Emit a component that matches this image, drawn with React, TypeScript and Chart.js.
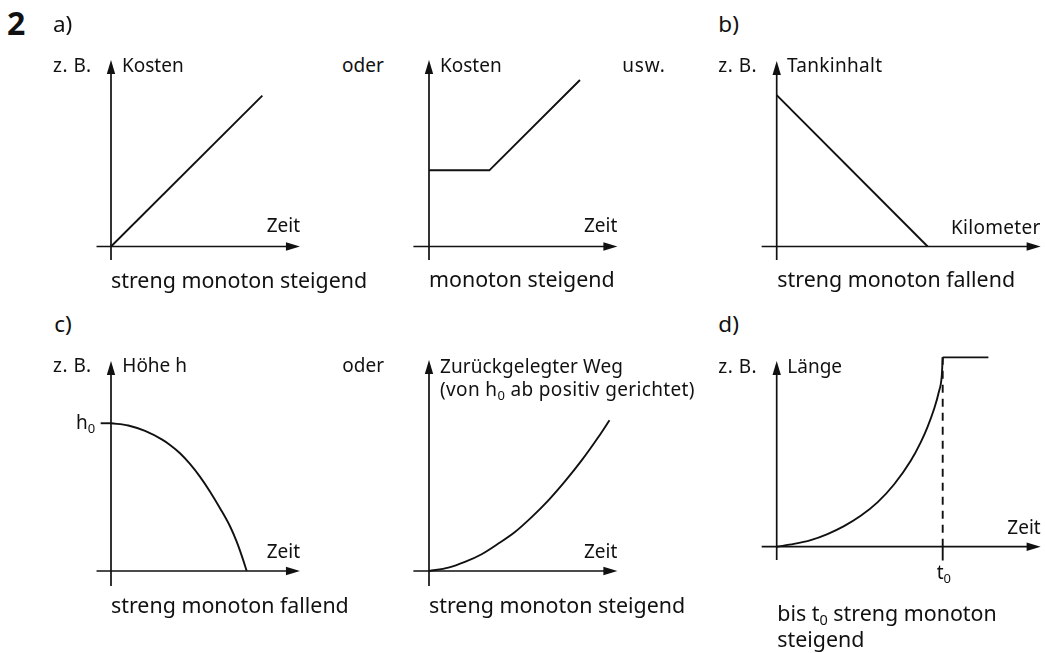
import React, { useEffect, useRef } from "react";
import { Chart, registerables } from "chart.js";

Chart.register(...registerables);

// ---------- data (axis units) ----------
const costLinearX = [0, 8.05];
const costLinearY = [0, 8.2];

const costStepX = [0, 3.21, 8.03];
const costStepY = [4.14, 4.14, 9.05];

const tankX = [0, 8.03];
const tankY = [8.23, 0];

const heightX = [0, 0.92, 1.81, 2.7, 3.14, 3.67, 4.2, 4.73, 5.27, 5.8, 6.33, 6.69, 6.97, 7.22];
const heightY = [8.03, 7.91, 7.61, 7.15, 6.85, 6.4, 5.82, 5.13, 4.31, 3.41, 2.43, 1.58, 0.78, 0];
const h0Value = 8.03;

const distX = [0, 1.03, 1.91, 2.8, 3.69, 4.57, 5.46, 6.35, 7.23, 8.12, 9.01, 9.6];
const distY = [0, 0.18, 0.49, 0.91, 1.49, 2.12, 2.93, 3.84, 4.87, 6.01, 7.28, 8.19];

const lengthX = [0, 0.92, 1.81, 2.7, 3.58, 4.47, 5.36, 6.24, 7.13, 7.66, 8.02, 8.37, 8.62, 8.78, 8.83];
const lengthY = [0, 0.15, 0.36, 0.69, 1.12, 1.68, 2.41, 3.38, 4.67, 5.67, 6.5, 7.48, 8.39, 9.29, 10.29];
const lengthFlatX = [8.83, 11.26];
const lengthFlatY = [10.29, 10.29];
const t0Value = 8.83;

// ---------- texts ----------
const yAxisTitles = ["Kosten", "Kosten", "Tankinhalt", "Höhe h", "Zurückgelegter Weg", "Länge"];
const xAxisTitles = ["Zeit", "Zeit", "Kilometer", "Zeit", "Zeit", "Zeit"];
const captions = [
  "streng monoton steigend",
  "monoton steigend",
  "streng monoton fallend",
  "streng monoton fallend",
  "streng monoton steigend",
];

const INK = "#111";
const KX = 18.8;
const KY = 18.4;
const FONT = "'Noto Sans', 'Open Sans', sans-serif";
const CAP = 21.4;
const HEAD = 22.5;

type Series = { xs: number[]; ys: number[]; dash?: number[]; smooth?: boolean; width?: number };
type PanelSpec = { ox: number; oy: number; xAxis: [number, number]; yAxis: [number, number]; series: Series[] };

const panels: PanelSpec[] = [
  { ox: 111, oy: 246.5, xAxis: [-0.77, 10.05], yAxis: [-0.73, 10.14], series: [{ xs: costLinearX, ys: costLinearY }] },
  { ox: 429, oy: 246.5, xAxis: [-0.83, 10.02], yAxis: [-0.73, 10.14], series: [{ xs: costStepX, ys: costStepY }] },
  { ox: 776.7, oy: 246.5, xAxis: [-0.8, 14.04], yAxis: [-0.73, 10.08], series: [{ xs: tankX, ys: tankY }] },
  {
    ox: 111, oy: 571, xAxis: [-0.77, 10.05], yAxis: [-0.82, 11.41],
    series: [
      { xs: heightX, ys: heightY, smooth: true },
      { xs: [-0.55, 0], ys: [h0Value, h0Value] },
    ],
  },
  { ox: 429, oy: 571, xAxis: [-0.83, 10.02], yAxis: [-0.82, 11.47], series: [{ xs: distX, ys: distY, smooth: true }] },
  {
    ox: 776.7, oy: 546.7, xAxis: [-0.8, 14.04], yAxis: [-0.72, 10.09],
    series: [
      { xs: lengthX, ys: lengthY, smooth: true },
      { xs: lengthFlatX, ys: lengthFlatY },
      { xs: [t0Value, t0Value], ys: [0, lengthFlatY[0]], dash: [8, 6] },
      { xs: [t0Value, t0Value], ys: [-0.75, 0] },
    ],
  },
];

const AH = 14;
const AW = 4.2;

function Panel({ spec }: { spec: PanelSpec }) {
  const ref = useRef<HTMLCanvasElement>(null);
  const allX = [...spec.xAxis, ...spec.series.flatMap((s) => s.xs)];
  const allY = [...spec.yAxis, ...spec.series.flatMap((s) => s.ys)];
  const left = Math.floor(spec.ox + (Math.min(...allX) - 0.6) * KX);
  const right = Math.ceil(spec.ox + (Math.max(...allX) + 0.6) * KX);
  const top = Math.floor(spec.oy - (Math.max(...allY) + 0.6) * KY);
  const bottom = Math.ceil(spec.oy - (Math.min(...allY) - 0.6) * KY);
  const w = right - left;
  const h = bottom - top;
  const xmin = (left - spec.ox) / KX;
  const xmax = (right - spec.ox) / KX;
  const ymax = (spec.oy - top) / KY;
  const ymin = (spec.oy - bottom) / KY;

  useEffect(() => {
    if (!ref.current) return;
    const axesPlugin = {
      id: "arrowAxes",
      beforeDatasetsDraw(chart: any) {
        const { ctx } = chart;
        const sx = chart.scales.x;
        const sy = chart.scales.y;
        const px0 = sx.getPixelForValue(0);
        const py0 = sy.getPixelForValue(0);
        const xa = sx.getPixelForValue(spec.xAxis[0]);
        const xb = sx.getPixelForValue(spec.xAxis[1]);
        const ya = sy.getPixelForValue(spec.yAxis[0]);
        const yb = sy.getPixelForValue(spec.yAxis[1]);
        ctx.save();
        ctx.strokeStyle = INK;
        ctx.fillStyle = INK;
        ctx.lineWidth = 1.7;
        ctx.beginPath();
        ctx.moveTo(xa, py0);
        ctx.lineTo(xb - AH + 1, py0);
        ctx.moveTo(px0, ya);
        ctx.lineTo(px0, yb + AH - 1);
        ctx.stroke();
        ctx.beginPath();
        ctx.moveTo(xb, py0);
        ctx.lineTo(xb - AH, py0 - AW);
        ctx.lineTo(xb - AH, py0 + AW);
        ctx.closePath();
        ctx.fill();
        ctx.beginPath();
        ctx.moveTo(px0, yb);
        ctx.lineTo(px0 - AW, yb + AH);
        ctx.lineTo(px0 + AW, yb + AH);
        ctx.closePath();
        ctx.fill();
        ctx.restore();
      },
    };
    const chart = new Chart(ref.current, {
      type: "scatter",
      data: {
        datasets: spec.series.map((s) => ({
          data: s.xs.map((x, i) => ({ x, y: s.ys[i] })),
          showLine: true,
          borderColor: INK,
          borderWidth: s.width ?? 1.9,
          borderDash: s.dash ?? [],
          borderJoinStyle: "miter" as const,
          borderCapStyle: "butt" as const,
          pointRadius: 0,
          pointHoverRadius: 0,
          fill: false,
          tension: s.smooth ? 0.4 : 0,
          cubicInterpolationMode: s.smooth ? ("monotone" as const) : ("default" as const),
          clip: false as any,
        })),
      },
      options: {
        responsive: false,
        maintainAspectRatio: false,
        animation: false,
        events: [],
        layout: { padding: 0 },
        plugins: { legend: { display: false }, tooltip: { enabled: false } },
        scales: {
          x: { type: "linear", display: false, min: xmin, max: xmax },
          y: { type: "linear", display: false, min: ymin, max: ymax },
        },
      },
      plugins: [axesPlugin],
    });
    return () => chart.destroy();
  }, []);

  return (
    <canvas
      ref={ref}
      width={w}
      height={h}
      style={{ position: "absolute", left, top, width: w, height: h }}
    />
  );
}

function Txt({
  x,
  y,
  children,
  align = "left",
  size = 19,
  weight = 400,
  spacing = 0,
}: {
  x: number;
  y: number;
  children: React.ReactNode;
  align?: "left" | "right";
  size?: number;
  weight?: number;
  spacing?: number;
}) {
  const base = size * 0.888;
  const style: React.CSSProperties = {
    position: "absolute",
    top: y - base,
    fontSize: size,
    lineHeight: `${size}px`,
    fontWeight: weight,
    whiteSpace: "nowrap",
    fontFamily: FONT,
    color: INK,
    letterSpacing: spacing,
  };
  if (align === "right") style.right = 1045 - x;
  else style.left = x;
  return <div style={style}>{children}</div>;
}

const Sub = ({ children, size = 13 }: { children: React.ReactNode; size?: number }) => (
  <span style={{ fontSize: size, position: "relative", top: 4 }}>{children}</span>
);

export default function App() {
  return (
    <div
      style={{
        position: "absolute",
        left: 0,
        top: 0,
        width: 1045,
        height: 653,
        background: "#fff",
        overflow: "hidden",
        fontFamily: FONT,
      }}
    >
      {panels.map((p, i) => (
        <Panel key={i} spec={p} />
      ))}

      <Txt x={7} y={35} size={32} weight={700}>2</Txt>

      {/* a) */}
      <Txt x={53} y={33} size={HEAD}>a)</Txt>
      <Txt x={53} y={72.7} spacing={0.5}>z. B.</Txt>
      <Txt x={122} y={72.7}>{yAxisTitles[0]}</Txt>
      <Txt x={342} y={72.7}>oder</Txt>
      <Txt x={300} y={233.3} align="right">{xAxisTitles[0]}</Txt>
      <Txt x={111} y={288} size={CAP}>{captions[0]}</Txt>

      <Txt x={440} y={72.7}>{yAxisTitles[1]}</Txt>
      <Txt x={622.3} y={72.7} spacing={0.8}>usw.</Txt>
      <Txt x={617.3} y={233.3} align="right">{xAxisTitles[1]}</Txt>
      <Txt x={429} y={287.5} size={CAP}>{captions[1]}</Txt>

      {/* b) */}
      <Txt x={718.3} y={33} size={HEAD}>b)</Txt>
      <Txt x={718.3} y={72.7} spacing={0.5}>z. B.</Txt>
      <Txt x={787} y={72.7} spacing={0.3}>{yAxisTitles[2]}</Txt>
      <Txt x={1040.7} y={235} align="right" spacing={0.3}>{xAxisTitles[2]}</Txt>
      <Txt x={777.3} y={287.5} size={CAP}>{captions[2]}</Txt>

      {/* c) */}
      <Txt x={54.3} y={333.3} size={HEAD}>c)</Txt>
      <Txt x={53} y={373} spacing={0.5}>z. B.</Txt>
      <Txt x={122.3} y={373}>{yAxisTitles[3]}</Txt>
      <Txt x={342.3} y={373}>oder</Txt>
      <Txt x={76} y={430}>h<Sub>0</Sub></Txt>
      <Txt x={300} y={559.3} align="right">{xAxisTitles[3]}</Txt>
      <Txt x={111} y={613.3} size={CAP}>{captions[3]}</Txt>

      <Txt x={440} y={374} spacing={0.1}>{yAxisTitles[4]}</Txt>
      <Txt x={440} y={397.3} spacing={0.35}>(von h<Sub>0</Sub> ab positiv gerichtet)</Txt>
      <Txt x={617.3} y={559.3} align="right">{xAxisTitles[4]}</Txt>
      <Txt x={429} y={613.3} size={CAP}>{captions[4]}</Txt>

      {/* d) */}
      <Txt x={718.3} y={333.3} size={HEAD}>d)</Txt>
      <Txt x={718.3} y={374} spacing={0.5}>z. B.</Txt>
      <Txt x={787.3} y={374}>{yAxisTitles[5]}</Txt>
      <Txt x={1040.7} y={535} align="right">{xAxisTitles[5]}</Txt>
      <Txt x={936.7} y={580}>t<Sub>0</Sub></Txt>
      <Txt x={777.3} y={621} size={CAP}>bis t<Sub size={14.5}>0</Sub> streng monoton</Txt>
      <Txt x={777.3} y={647} size={CAP}>steigend</Txt>
    </div>
  );
}
